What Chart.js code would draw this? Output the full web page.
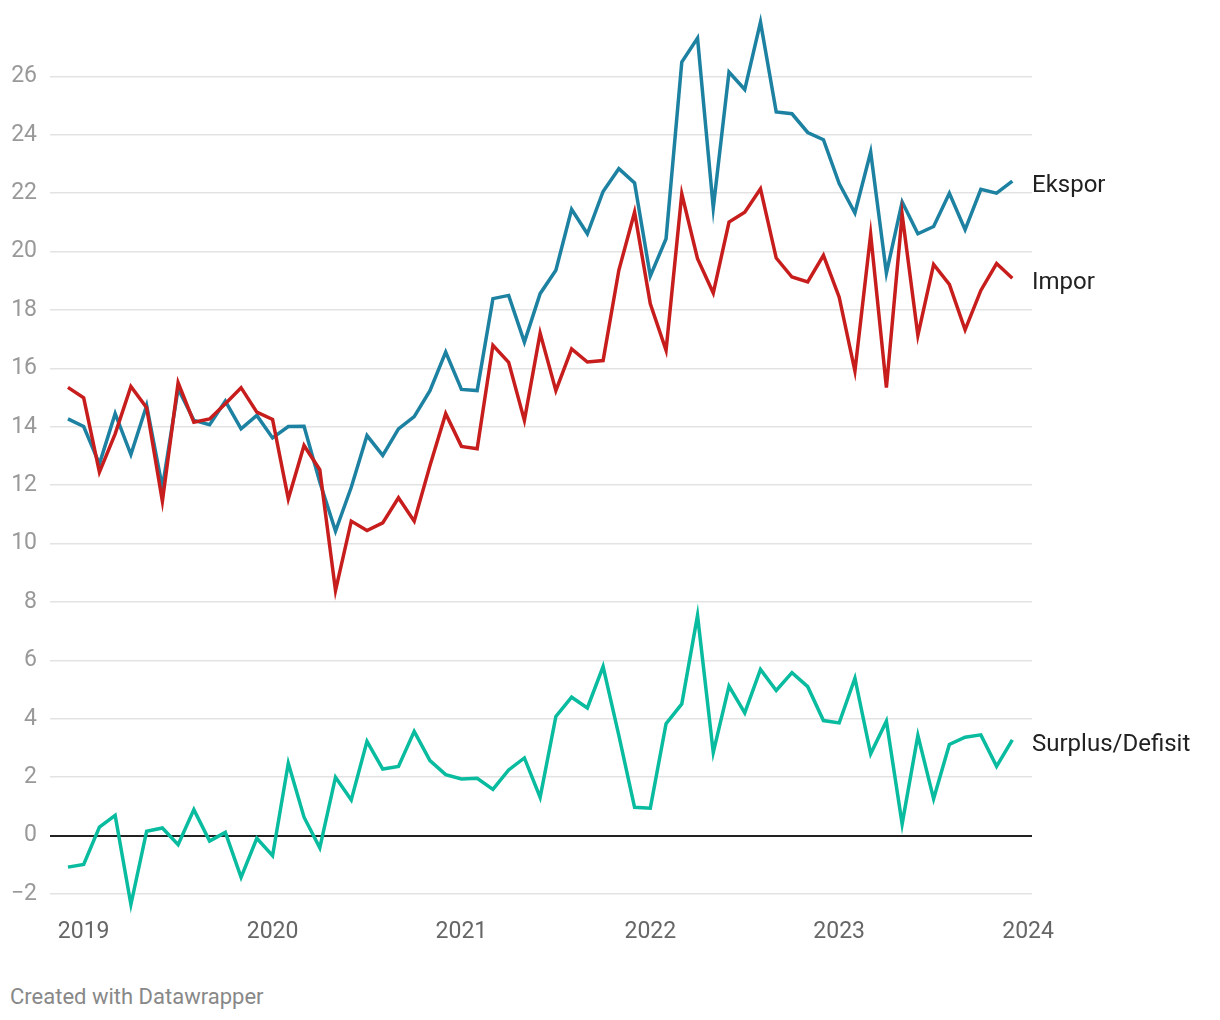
<!DOCTYPE html>
<html>
<head>
<meta charset="utf-8">
<script src="https://cdn.jsdelivr.net/npm/chart.js@4/dist/chart.umd.min.js"></script>
<style>
    body { margin: 0; background: #fff; font-family: Roboto, sans-serif; }
    #wrap { position: relative; width: 1220px; height: 1020px; }
    #footer { position: absolute; left: 10px; top: 984px; font-size: 22px; color: #888; }
</style>
</head>
<body>
<div id="wrap">
    <canvas id="chart" width="1220" height="960"></canvas>
    <div id="footer">Created with Datawrapper</div>
</div>
<script>
//Monthly values, Dec 2018 - Dec 2023 (billion USD)
const ekspor = [
    14.27, 14.01, 12.73, 14.45, 13.05, 14.73, 11.93, 15.30, 14.22, 14.07,
    14.88, 13.93, 14.39, 13.62, 14.01, 14.02, 12.11, 10.43, 11.93, 13.70,
    13.02, 13.93, 14.35, 15.24, 16.56, 15.28, 15.24, 18.39, 18.50, 16.90,
    18.56, 19.36, 21.45, 20.61, 22.06, 22.84, 22.35, 19.16, 20.44, 26.49,
    27.31, 21.50, 26.15, 25.55, 27.86, 24.78, 24.72, 24.08, 23.83, 22.33,
    21.32, 23.41, 19.26, 21.70, 20.61, 20.86, 22.00, 20.75, 22.13, 22.00,
    22.41
];

const impor = [
    15.35, 14.99, 12.45, 13.76, 15.38, 14.65, 11.45, 15.51, 14.16, 14.27,
    14.79, 15.34, 14.50, 14.25, 11.53, 13.36, 12.53, 8.39, 10.77, 10.45,
    10.71, 11.57, 10.77, 12.67, 14.45, 13.33, 13.25, 16.79, 16.21, 14.22,
    17.21, 15.24, 16.67, 16.22, 16.27, 19.36, 21.35, 18.21, 16.62, 21.98,
    19.76, 18.58, 21.01, 21.35, 22.15, 19.78, 19.13, 18.96, 19.87, 18.44,
    15.91, 20.59, 15.34, 21.27, 17.13, 19.56, 18.88, 17.32, 18.67, 19.59,
    19.09
];

const surplus = [
    -1.08, -0.99, 0.29, 0.69, -2.36, 0.15, 0.26, -0.31, 0.89, -0.19,
    0.11, -1.43, -0.09, -0.69, 2.48, 0.63, -0.42, 2.00, 1.22, 3.23,
    2.28, 2.37, 3.57, 2.57, 2.09, 1.94, 1.96, 1.58, 2.25, 2.66,
    1.31, 4.08, 4.74, 4.37, 5.79, 3.43, 0.97, 0.94, 3.83, 4.51,
    7.54, 2.85, 5.12, 4.20, 5.69, 4.97, 5.58, 5.10, 3.94, 3.86,
    5.39, 2.80, 3.92, 0.40, 3.43, 1.26, 3.12, 3.37, 3.45, 2.37,
    3.28
];

//Year ticks sit on January of each year (index 0 = Dec 2018)
const yearTicks = [1, 13, 25, 37, 49, 61];
const yearLabels = ['2019', '2020', '2021', '2022', '2023', '2024'];
const yTicks = [-2, 0, 2, 4, 6, 8, 10, 12, 14, 16, 18, 20, 22, 24, 26];

const seriesNames = ['Ekspor', 'Impor', 'Surplus/Defisit'];
const colours = ['#1d81a2', '#c71e1d', '#09bb9f'];

function toPoints(values) {
    var pts = [];
    for (var i = 0; i < values.length; i++) {
        pts.push({ x: i, y: values[i] });
    }
    return pts;
}

//Direct labels at the end of each line
const endLabels = {
    id: 'endLabels',
    afterDatasetsDraw(chart) {
        const ctx = chart.ctx;
        ctx.save();
        ctx.font = '24px Roboto';
        ctx.fillStyle = '#222';
        ctx.textBaseline = 'middle';
        ctx.textAlign = 'left';
        chart.data.datasets.forEach(function(ds, i) {
            const meta = chart.getDatasetMeta(i);
            const last = meta.data[meta.data.length - 1];
            ctx.fillText(ds.label, chart.chartArea.right, last.y + 5);
        });
        ctx.restore();
    }
};

new Chart(document.getElementById('chart'), {
    type: 'line',
    data: {
        datasets: [
            { label: seriesNames[0], data: toPoints(ekspor), borderColor: colours[0], order: 3, clip: false },
            { label: seriesNames[1], data: toPoints(impor), borderColor: colours[1], order: 2, clip: false },
            { label: seriesNames[2], data: toPoints(surplus), borderColor: colours[2], order: 1, clip: false }
        ]
    },
    options: {
        responsive: false,
        animation: false,
        layout: { padding: { top: 18, right: 188, left: 0, bottom: 0 } },
        elements: {
            line: { borderWidth: 3.5, tension: 0, borderJoinStyle: 'miter' },
            point: { radius: 0 }
        },
        plugins: {
            legend: { display: false },
            tooltip: { enabled: false }
        },
        scales: {
            x: {
                type: 'linear',
                min: -1.14,
                max: 61.25,
                grid: { display: false },
                border: { display: false },
                afterBuildTicks: function(scale) {
                    scale.ticks = yearTicks.map(v => ({ value: v }));
                },
                afterFit: function(scale) {
                    scale.height = 66;
                    scale.paddingLeft = 0;
                    scale.paddingRight = 0;
                },
                ticks: {
                    autoSkip: false,
                    maxRotation: 0,
                    padding: 16,
                    color: '#666',
                    font: { family: 'Roboto', size: 23 },
                    callback: function(value) {
                        return yearLabels[yearTicks.indexOf(value)];
                    }
                }
            },
            y: {
                min: -2,
                max: 28,
                border: { display: false },
                afterBuildTicks: function(scale) {
                    scale.ticks = yTicks.map(v => ({ value: v }));
                },
                afterFit: function(scale) {
                    scale.width = 50;
                    scale.paddingTop = 0;
                    scale.paddingBottom = 0;
                },
                grid: {
                    drawTicks: false,
                    color: ctx => ctx.tick.value === 0 ? '#222' : '#e3e3e3',
                    lineWidth: ctx => ctx.tick.value === 0 ? 2 : 1.5
                },
                ticks: {
                    padding: 13,
                    color: '#999',
                    font: { family: 'Roboto', size: 23 },
                    callback: function(value) {
                        return value < 0 ? '\u2212' + Math.abs(value) : String(value);
                    }
                }
            }
        }
    },
    plugins: [endLabels]
});
</script>
</body>
</html>
